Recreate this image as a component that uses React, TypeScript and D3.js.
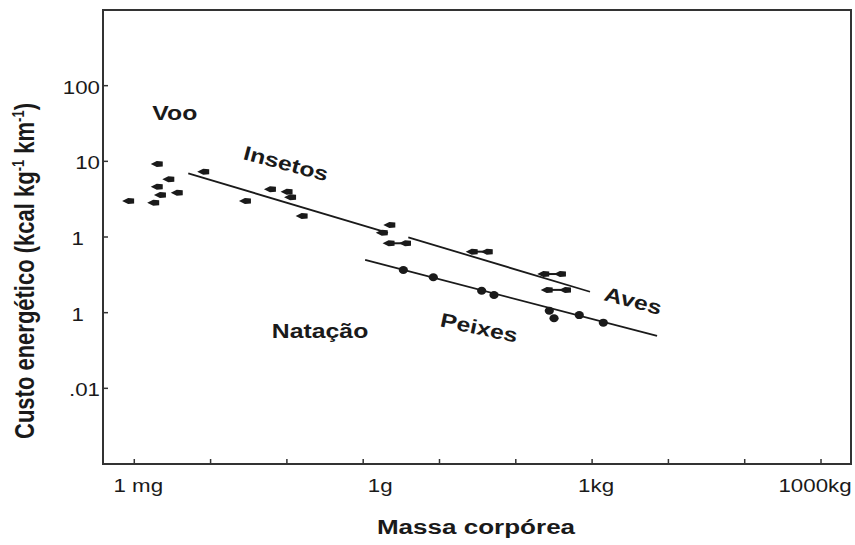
import React from "react";
import * as d3 from "d3";

const W = 855;
const H = 545;
const FRAME = { left: 103, right: 851, top: 10, bottom: 464 };
// the scanned figure is stretched sideways, so text is widened too
const SX = 1.24;
const FONT = "'Liberation Sans', Arial, Helvetica, sans-serif";
const INK = "#1a1a1a";

// axis ticks
const xTickValues = [1e-3, 1e-2, 1e-1, 1, 10, 100, 1e3, 1e4, 1e5, 1e6];
const xLabelValues = [1e-3, 1, 1e3, 1e6];
const xLabelTexts = ["1 mg", "1g", "1kg", "1000kg"];
const yTickValues = [100, 10, 1, 0.1, 0.01];
const yTickLabels = ["100", "10", "1", "1", ".01"];

// flying insects (mass g, cost kcal kg-1 km-1)
const insetosMass = [0.00197, 0.008, 0.00279, 0.00197, 0.0036, 0.00217, 0.00083, 0.00177, 0.0282, 0.06, 0.099, 0.11, 0.156, 2.2, 1.75];
const insetosCost = [9.2, 7.3, 5.8, 4.6, 3.85, 3.6, 3.0, 2.84, 3.0, 4.27, 3.97, 3.35, 1.9, 1.44, 1.14];

// flying birds, in pairs of equal cost
const avesMass = [2.15, 3.53, 26.4, 41.6, 229, 379, 254, 441];
const avesCost = [0.826, 0.826, 0.64, 0.64, 0.324, 0.324, 0.2, 0.2];

// swimming fish
const peixesMass = [3.36, 8.3, 35.7, 51.8, 275, 317, 679, 1403];
const peixesCost = [0.366, 0.294, 0.195, 0.171, 0.106, 0.0844, 0.093, 0.0738];

// fitted lines (start, end)
const fitInsetosMass = [0.0051, 2.11];
const fitInsetosCost = [6.95, 1.13];
const fitAvesMass = [3.9, 938];
const fitAvesCost = [0.99, 0.189];
const fitPeixesMass = [1.06, 7100];
const fitPeixesCost = [0.497, 0.0492];

// labels placed in data space
const noteTexts = ["Voo", "Insetos", "Aves", "Natação", "Peixes"];
const noteMass = [0.0034, 0.097, 3436, 0.272, 33];
const noteCost = [43.5, 9.3, 0.1425, 0.0573, 0.0627];
const noteAngle = [0, 15, 15, 0, 12];

const xNudge: Record<string, number> = { "1 mg": 4, "1g": 17, "1kg": 4, "1000kg": -6 };
const yNudge: Record<string, number> = { "1": -16 };

function StretchText({ x, y, angle = 0, size, weight = "normal", anchor = "middle", children, baseline }: any) {
  return (
    <text
      transform={`translate(${x},${y}) rotate(${angle}) scale(${SX},1)`}
      fontSize={size}
      fontWeight={weight}
      textAnchor={anchor}
      dominantBaseline={baseline}
      fontFamily={FONT}
      fill={INK}
    >
      {children}
    </text>
  );
}

export default function App() {
  const x = d3.scaleLog().domain([10 ** -3.41, 10 ** 6.393]).range([FRAME.left, FRAME.right]);
  const y = d3.scaleLog().domain([1e-3, 1e3]).range([FRAME.bottom, FRAME.top]);

  const fit = (ms: number[], cs: number[]) =>
    d3.line<number>().x((_, i) => x(ms[i])).y((_, i) => y(cs[i]))(ms.map((_, i) => i)) || "";

  const tri = "M-6,0 L0,-3 L6,-2.5 L6,2.5 L0,3 Z";
  const pairs = d3.range(0, avesMass.length, 2);

  return (
    <svg width={W} height={H} style={{ position: "absolute", left: 0, top: 0, background: "#fff" }}>
      <rect x={0} y={0} width={W} height={H} fill="#fff" />
      <rect
        x={FRAME.left}
        y={FRAME.top}
        width={FRAME.right - FRAME.left}
        height={FRAME.bottom - FRAME.top}
        fill="none"
        stroke="#333"
        strokeWidth={2}
      />

      {/* x ticks */}
      {xTickValues.map((v) => (
        <line key={v} x1={x(v)} x2={x(v)} y1={FRAME.bottom} y2={FRAME.bottom - 5} stroke="#333" strokeWidth={1.5} />
      ))}
      {xLabelValues.map((v, i) => (
        <StretchText key={v} x={x(v) + (xNudge[xLabelTexts[i]] || 0)} y={492} size={18}>
          {xLabelTexts[i]}
        </StretchText>
      ))}

      {/* y ticks */}
      {yTickValues.map((v, i) => (
        <g key={i}>
          <line x1={FRAME.left} x2={FRAME.left + 5} y1={y(v)} y2={y(v)} stroke="#333" strokeWidth={1.5} />
          <StretchText x={100 + (yNudge[yTickLabels[i]] || 0)} y={y(v) + 8} size={18} anchor="end">
            {yTickLabels[i]}
          </StretchText>
        </g>
      ))}

      {/* axis titles */}
      <StretchText x={476} y={534} size={21} weight="bold">
        Massa corpórea
      </StretchText>
      <text
        transform={`translate(34,271) scale(${SX},1) rotate(-90)`}
        fontSize={22}
        fontWeight="bold"
        textAnchor="middle"
        fontFamily={FONT}
        fill={INK}
      >
        Custo energético (kcal kg
        <tspan dy={-8} fontSize={13}>-1</tspan>
        <tspan dy={8}> km</tspan>
        <tspan dy={-8} fontSize={13}>-1</tspan>
        <tspan dy={8}>)</tspan>
      </text>

      {/* fitted lines */}
      <path d={fit(fitInsetosMass, fitInsetosCost)} stroke={INK} strokeWidth={1.8} fill="none" />
      <path d={fit(fitAvesMass, fitAvesCost)} stroke={INK} strokeWidth={1.8} fill="none" />
      <path d={fit(fitPeixesMass, fitPeixesCost)} stroke={INK} strokeWidth={1.8} fill="none" />

      {/* insects */}
      {insetosMass.map((m, i) => (
        <path key={"i" + i} d={tri} transform={`translate(${x(m)},${y(insetosCost[i])})`} fill={INK} />
      ))}
      {/* birds: each pair joined by a short bar */}
      {pairs.map((i) => (
        <line
          key={"ab" + i}
          x1={x(avesMass[i])}
          x2={x(avesMass[i + 1])}
          y1={y(avesCost[i])}
          y2={y(avesCost[i + 1])}
          stroke={INK}
          strokeWidth={2}
        />
      ))}
      {avesMass.map((m, i) => (
        <path key={"a" + i} d={tri} transform={`translate(${x(m)},${y(avesCost[i])})`} fill={INK} />
      ))}
      {/* fish */}
      {peixesMass.map((m, i) => (
        <ellipse key={"p" + i} cx={x(m)} cy={y(peixesCost[i])} rx={4.6} ry={4} fill={INK} />
      ))}

      {/* group labels */}
      {noteTexts.map((t, i) => (
        <StretchText
          key={t}
          x={x(noteMass[i])}
          y={y(noteCost[i])}
          angle={noteAngle[i]}
          size={20}
          weight="bold"
          baseline="central"
        >
          {t}
        </StretchText>
      ))}
    </svg>
  );
}
